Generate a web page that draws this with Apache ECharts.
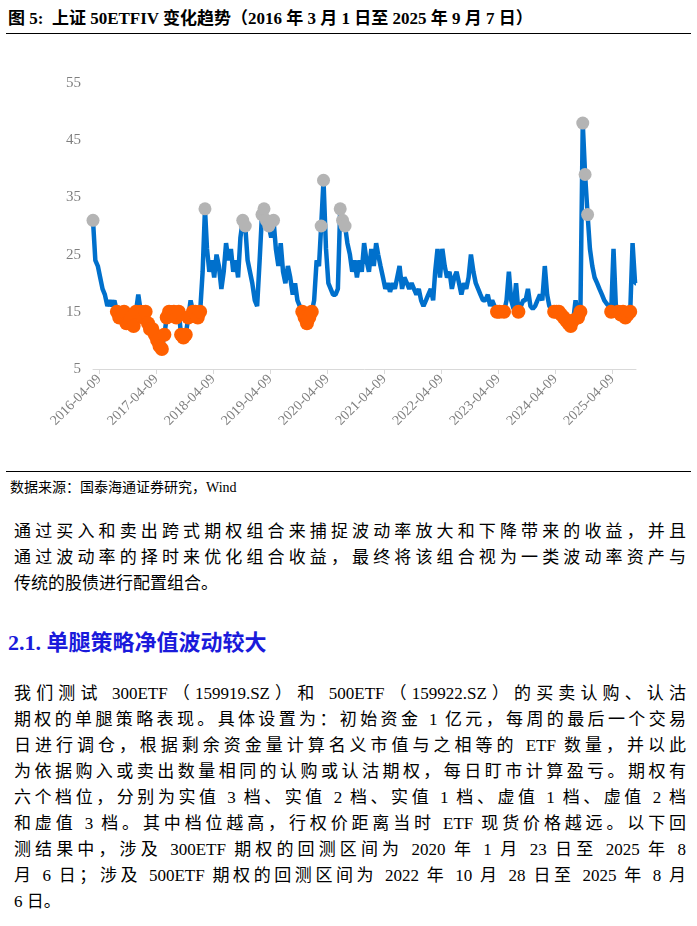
<!DOCTYPE html>
<html lang="zh">
<head>
<meta charset="UTF-8">
<title>上证50ETFIV</title>
<script src="https://cdn.jsdelivr.net/npm/echarts@6/dist/echarts.min.js"></script>
<style>
    body { margin: 0; width: 697px; height: 926px; background: #fff; position: relative;
           font-family: "Liberation Serif", "Noto Sans CJK SC", serif; color: #000; }
    .title { position: absolute; left: 8px; top: 4px; font-size: 17px; font-weight: bold; }
    .rule { position: absolute; left: 6px; width: 685px; border-top: 1px solid #000; }
    .src { position: absolute; left: 10px; top: 476px; font-size: 14px; }
    .p { position: absolute; left: 14px; width: 672px; font-size: 17px; line-height: 26px; }
    .p div { text-align: justify; text-align-last: justify; height: 26px; white-space: nowrap; }
    .p div.last { text-align-last: left; }
    .h { position: absolute; left: 8px; top: 624px; font-size: 22px; font-weight: bold; color: #1a1adb; }
</style>
</head>
<body>
<div class="title">图 5:&nbsp; 上证 50ETFIV 变化趋势（2016 年 3 月 1 日至 2025 年 9 月 7 日）</div>
<div class="rule" style="top:33px"></div>
<div id="main" style="position:absolute;left:0;top:40px;width:697px;height:430px;"></div>
<div class="rule" style="top:471px"></div>
<div class="src">数据来源：国泰海通证券研究，Wind</div>
<div class="p" style="top:519px">
    <div>通过买入和卖出跨式期权组合来捕捉波动率放大和下降带来的收益，并且</div>
    <div>通过波动率的择时来优化组合收益，最终将该组合视为一类波动率资产与</div>
    <div class="last">传统的股债进行配置组合。</div>
</div>
<div class="h">2.1. 单腿策略净值波动较大</div>
<div class="p" style="top:681px">
    <div>我们测试 300ETF（159919.SZ）和 500ETF（159922.SZ）的买卖认购、认沽</div>
    <div>期权的单腿策略表现。具体设置为：初始资金 1 亿元，每周的最后一个交易</div>
    <div>日进行调仓，根据剩余资金量计算名义市值与之相等的 ETF 数量，并以此</div>
    <div>为依据购入或卖出数量相同的认购或认沽期权，每日盯市计算盈亏。期权有</div>
    <div>六个档位，分别为实值 3 档、实值 2 档、实值 1 档、虚值 1 档、虚值 2 档</div>
    <div>和虚值 3 档。其中档位越高，行权价距离当时 ETF 现货价格越远。以下回</div>
    <div>测结果中，涉及 300ETF 期权的回测区间为 2020 年 1 月 23 日至 2025 年 8</div>
    <div>月 6 日；涉及 500ETF 期权的回测区间为 2022 年 10 月 28 日至 2025 年 8 月</div>
    <div class="last">6 日。</div>
</div>
<script type="text/javascript">
    // 半月取值（每月1日、16日），2016年从3月开始，2025年到9月1日
    var iv2016 = [31, 24, 23, 21, 19, 18, 16, 17, 16, 17, 15, 14, 14, 15, 13, 13, 14, 12.5, 15, 18];
    var iv2017 = [15, 14, 15, 13, 12, 12, 11, 10, 9, 8.5, 11, 14, 15, 16, 15, 14, 15, 11, 10.5, 11, 14, 17, 15, 15];
    var iv2018 = [14, 15, 22, 33, 26, 22, 24, 21, 25, 23, 19, 22, 27, 24, 26, 22, 24, 21, 28, 31, 30, 24, 22, 20];
    var iv2019 = [17, 16, 24, 32, 33, 31, 30, 28, 31, 26, 23, 27, 22, 20, 23, 21, 18, 20, 17, 16, 15, 14, 13, 14];
    var iv2020 = [15, 17, 24, 23, 30, 38, 26, 20, 19, 18, 18, 19, 33, 31, 30, 27, 25, 22, 24, 21, 24, 22, 27, 24];
    var iv2021 = [22, 26, 23, 27, 25, 23, 21, 19, 20, 18.5, 20, 19, 21, 23, 19, 21, 20, 19, 20, 19, 18, 19, 17, 16];
    var iv2022 = [17, 18, 19, 17, 22, 26, 21, 26, 23, 21, 22, 19, 21, 22, 20, 18, 20, 19, 21, 25, 22, 20, 19, 18];
    var iv2023 = [17, 17, 18, 16, 17, 16, 15, 15, 15.5, 15, 17, 22, 17, 15.5, 20, 15, 16, 17, 17, 19, 16, 15.5, 16, 17];
    var iv2024 = [18, 17, 23, 18, 16, 15.5, 15, 15, 15, 14.5, 14, 13.5, 13, 12.5, 13.5, 17, 14, 15, 48, 39, 32, 26, 23, 21];
    var iv2025 = [20, 19, 18, 17, 16.5, 16, 15, 26, 16, 15, 14.5, 15, 14, 14.5, 15, 27, 20];
    var ivLast = ['2025-09-07', 20];
    var yTicks = [5, 15, 25, 35, 45, 55];
    var highLevel = 30, lowLevel = 15;

    function pad(n) { return n < 10 ? '0' + n : '' + n; }

    // 按年拼出 [日期, 值]
    var years = [[2016, 3, iv2016], [2017, 1, iv2017], [2018, 1, iv2018], [2019, 1, iv2019], [2020, 1, iv2020],
                 [2021, 1, iv2021], [2022, 1, iv2022], [2023, 1, iv2023], [2024, 1, iv2024], [2025, 1, iv2025]];
    var ivData = [];
    years.forEach(function (y) {
        y[2].forEach(function (v, i) {
            var m = y[1] + Math.floor(i / 2);
            ivData.push([y[0] + '-' + pad(m) + '-' + (i % 2 ? '16' : '01'), v]);
        });
    });
    ivData.push(ivLast);

    var highData = ivData.filter(function (d) { return d[1] >= highLevel; });
    var lowData = ivData.filter(function (d) { return d[1] <= lowLevel; });

    // 逐日类目轴
    var days = [];
    var t = Date.UTC(2016, 2, 1), end = Date.UTC(2025, 8, 7);
    for (; t <= end; t += 86400000) {
        var d = new Date(t);
        days.push(d.getUTCFullYear() + '-' + pad(d.getUTCMonth() + 1) + '-' + pad(d.getUTCDate()));
    }
    function isTick(idx, val) { return val.slice(5) === '04-09'; }

    var myChart = echarts.init(document.getElementById('main'));
    var option = {
        animation: false,
        grid: { left: 93, right: 61, top: 43, height: 286 },
        xAxis: {
            type: 'category', data: days, boundaryGap: false,
            axisLine: { lineStyle: { color: '#d9d9d9' } },
            axisTick: { interval: isTick, length: 5, lineStyle: { color: '#d9d9d9' } },
            axisLabel: { interval: isTick, rotate: 45, color: '#7f7f7f', fontSize: 14, margin: 8,
                         fontFamily: 'Liberation Serif' }
        },
        yAxis: {
            type: 'value', min: yTicks[0], max: yTicks[yTicks.length - 1], interval: 10,
            splitLine: { show: false },
            axisLabel: { color: '#7f7f7f', fontSize: 15, margin: 12, fontFamily: 'Liberation Serif' }
        },
        series: [
            { type: 'line', data: ivData, showSymbol: false, lineStyle: { color: '#0070cc', width: 4.5 }, z: 2 },
            { type: 'scatter', data: highData, symbolSize: 13, itemStyle: { color: '#b4b4b4', opacity: 1 }, z: 3 },
            { type: 'scatter', data: lowData, symbolSize: 14, itemStyle: { color: '#ff6000', opacity: 1 }, z: 3 }
        ]
    };
    myChart.setOption(option);
</script>
</body>
</html>
